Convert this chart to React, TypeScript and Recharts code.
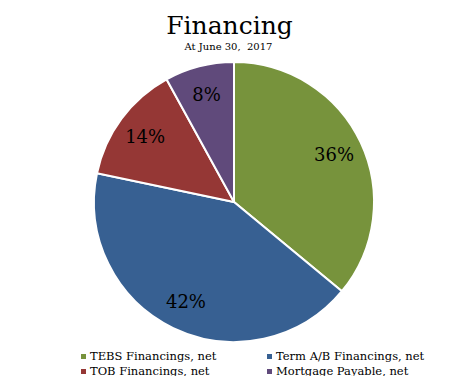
import { Cell, Legend, Pie, PieChart } from "recharts";

const names = [
  "TEBS Financings, net",
  "Term A/B Financings, net",
  "TOB Financings, net",
  "Mortgage Payable, net",
];
const shares = [36.0, 42.3, 13.7, 8.0];
const colors = ["#77933C", "#376092", "#953735", "#604A7B"];

const data = names.map((name, i) => ({ name, value: shares[i] }));

// Liberation Serif is not picked up here, DejaVu Serif is
const FONT = "'DejaVu Serif', serif";
const RAD = Math.PI / 180;

function renderLabel(props: any) {
  const { cx, cy, midAngle, outerRadius, percent } = props;
  const r = outerRadius * 0.79;
  const x = cx + r * Math.cos(-midAngle * RAD);
  const y = cy + r * Math.sin(-midAngle * RAD);
  return (
    <text
      x={x}
      y={y}
      fill="#000"
      textAnchor="middle"
      dominantBaseline="central"
      style={{ fontFamily: FONT, fontSize: 18 }}
    >
      {`${Math.round(percent * 100)}%`}
    </text>
  );
}

function LegendBox(props: any) {
  const items = [...(props.payload ?? [])].sort(
    (a: any, b: any) => names.indexOf(a.value) - names.indexOf(b.value),
  );
  return (
    <div style={{ position: "relative", width: 453, height: 32, fontFamily: FONT, fontSize: 11.5 }}>
      {items.map((it: any, i: number) => (
        <div
          key={it.value}
          style={{
            position: "absolute",
            left: i % 2 === 0 ? 81 : 267,
            top: i < 2 ? 0 : 15,
            display: "flex",
            alignItems: "center",
            lineHeight: "16px",
            color: "#000",
            whiteSpace: "nowrap",
          }}
        >
          <span
            style={{
              width: 5,
              height: 5,
              background: it.color,
              display: "inline-block",
              marginRight: 4,
            }}
          />
          {it.value}
        </div>
      ))}
    </div>
  );
}

export default function App() {
  return (
    <div
      style={{
        position: "relative",
        width: 453,
        height: 384,
        margin: -8,
        border: "1px solid #d9d9d9",
        boxSizing: "border-box",
        background: "#fff",
      }}
    >
      <div
        style={{
          position: "absolute",
          top: 12,
          left: 2,
          width: 453,
          textAlign: "center",
          fontFamily: FONT,
          fontSize: 25,
          lineHeight: 1,
          color: "#000",
        }}
      >
        Financing
      </div>
      <div
        style={{
          position: "absolute",
          top: 41,
          left: 1,
          width: 453,
          textAlign: "center",
          fontFamily: FONT,
          fontSize: 10,
          lineHeight: 1,
          color: "#000",
          whiteSpace: "pre",
        }}
      >
        {"At June 30,  2017"}
      </div>
      <div style={{ position: "absolute", top: -1, left: -1 }}>
        <PieChart width={453} height={384} margin={{ top: 0, right: 0, bottom: 0, left: 0 }}>
          <Pie
            data={data}
            dataKey="value"
            nameKey="name"
            cx={234}
            cy={202}
            outerRadius={140}
            startAngle={90}
            endAngle={-270}
            stroke="#fff"
            strokeWidth={2}
            label={renderLabel}
            labelLine={false}
            isAnimationActive={false}
          >
            {data.map((d, i) => (
              <Cell key={d.name} fill={colors[i]} />
            ))}
          </Pie>
          <Legend
            verticalAlign="bottom"
            content={LegendBox}
            wrapperStyle={{ position: "absolute", top: 348, left: 0, width: 453 }}
          />
        </PieChart>
      </div>
    </div>
  );
}
